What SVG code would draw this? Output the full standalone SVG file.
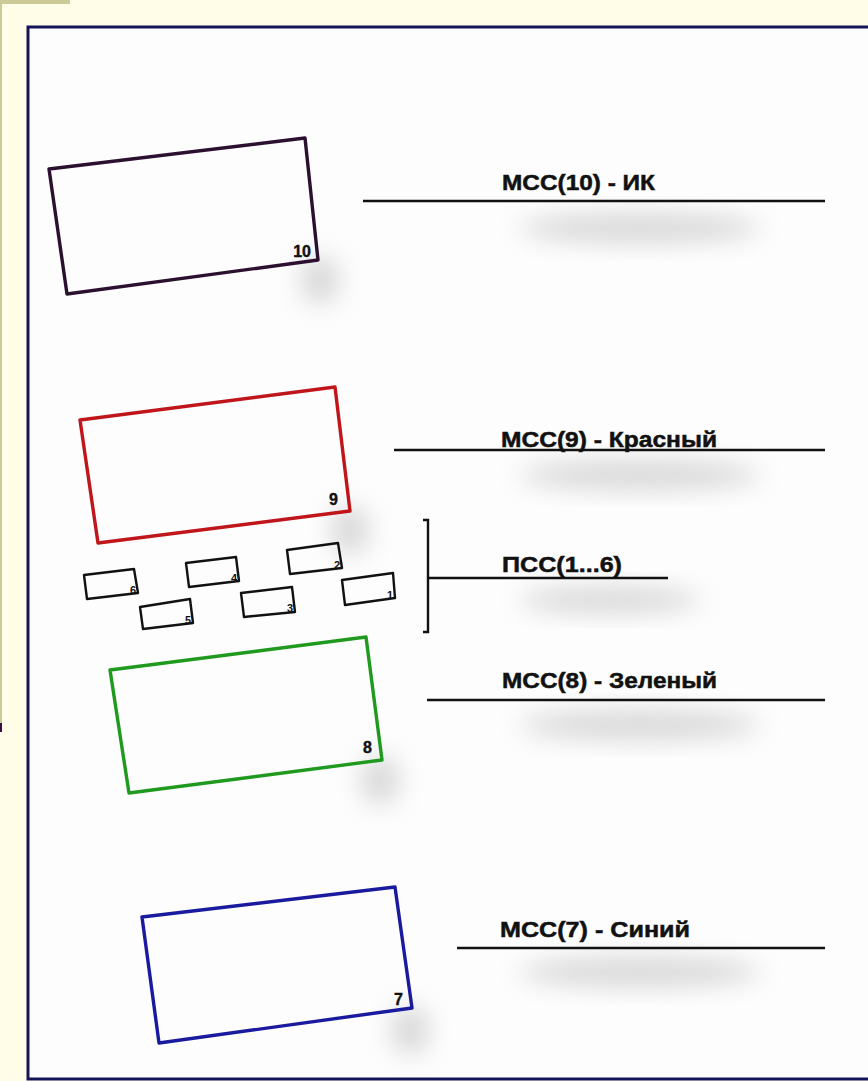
<svg xmlns="http://www.w3.org/2000/svg" width="868" height="1081" viewBox="0 0 868 1081">
<defs>
<filter id="blur" x="-50%" y="-50%" width="200%" height="200%"><feGaussianBlur stdDeviation="12"/></filter>
<style>
.lbl{font-family:"Liberation Sans",Arial,sans-serif;font-weight:bold;font-size:22px;fill:#111;stroke:#111;stroke-width:0.5}
.num{font-family:"Liberation Sans",Arial,sans-serif;font-weight:bold;font-size:16px;fill:#111;stroke:#111;stroke-width:0.4}
.snum{font-family:"Liberation Sans",Arial,sans-serif;font-weight:bold;font-size:11px;fill:#111}
.box{fill:none;stroke-width:3.4;stroke-linejoin:round}
.sbox{fill:none;stroke:#111;stroke-width:2.4;stroke-linejoin:round}
.ln{stroke:#111;stroke-width:2.4;fill:none}
.sh{fill:#9a9a9a;opacity:0.35;filter:url(#blur)}
</style>
</defs>
<rect x="0" y="0" width="868" height="1081" fill="#fffde8"/>
<rect x="0" y="0" width="70" height="4" fill="#cbca98"/>
<rect x="0" y="4" width="2" height="719" fill="#cbca98"/>
<rect x="0" y="723" width="2" height="9" fill="#3a1040"/>
<rect x="28" y="27" width="842" height="1052" fill="#fdfdfd" stroke="#14145a" stroke-width="3"/>
<g id="shadows">
<ellipse class="sh" cx="640" cy="228" rx="120" ry="16"/>
<ellipse class="sh" cx="640" cy="475" rx="120" ry="16"/>
<ellipse class="sh" cx="610" cy="600" rx="90" ry="14"/>
<ellipse class="sh" cx="640" cy="725" rx="120" ry="16"/>
<ellipse class="sh" cx="640" cy="972" rx="120" ry="16"/>
<ellipse class="sh" cx="320" cy="280" rx="20" ry="25"/>
<ellipse class="sh" cx="350" cy="530" rx="20" ry="25"/>
<ellipse class="sh" cx="380" cy="780" rx="20" ry="25"/>
<ellipse class="sh" cx="410" cy="1030" rx="20" ry="25"/>
</g>
<g id="node-10">
<polygon class="box" stroke="#2c1030" points="49,169 305,138 318,260 67,294"/>
<text class="num" x="311" y="257" text-anchor="end">10</text>
</g>
<g id="node-9">
<polygon class="box" stroke="#c0161b" points="80,420 335,387 350,511 98,543"/>
<text class="num" x="338" y="505" text-anchor="end">9</text>
</g>
<g id="node-8">
<polygon class="box" stroke="#1f9a1f" points="110,670 366,637 382,760 129,793"/>
<text class="num" x="372" y="753" text-anchor="end">8</text>
</g>
<g id="node-7">
<polygon class="box" stroke="#1a1a9e" points="142,917 395,887 412,1008 159,1043"/>
<text class="num" x="403" y="1005" text-anchor="end">7</text>
</g>
<g id="node-6"><polygon class="sbox" points="84,575 134,569 138,593 87,599"/><text class="snum" x="136" y="594" text-anchor="end">6</text></g>
<g id="node-4"><polygon class="sbox" points="186,563 236,557 239,581 189,587"/><text class="snum" x="237" y="582" text-anchor="end">4</text></g>
<g id="node-2"><polygon class="sbox" points="287,550 338,543 342,568 290,574"/><text class="snum" x="340" y="569" text-anchor="end">2</text></g>
<g id="node-1"><polygon class="sbox" points="342,580 393,573 395,598 345,605"/><text class="snum" x="393" y="599" text-anchor="end">1</text></g>
<g id="node-5"><polygon class="sbox" points="140,607 190,599 193,623 143,629"/><text class="snum" x="191" y="624" text-anchor="end">5</text></g>
<g id="node-3"><polygon class="sbox" points="241,593 292,587 295,612 244,617"/><text class="snum" x="293" y="612" text-anchor="end">3</text></g>
<g id="connectors">
<line class="ln" x1="363" y1="201" x2="825" y2="201"/>
<line class="ln" x1="394" y1="450" x2="825" y2="450"/>
<polyline class="ln" points="423,520 428,520 428,632 423,632"/>
<line class="ln" x1="428" y1="578" x2="668" y2="578"/>
<line class="ln" x1="427" y1="700" x2="825" y2="700"/>
<line class="ln" x1="457" y1="948" x2="825" y2="948"/>
</g>
<g id="labels">
<text class="lbl" x="502" y="190" textLength="153" lengthAdjust="spacingAndGlyphs">МСС(10) - ИК</text>
<text class="lbl" x="501" y="447" textLength="216" lengthAdjust="spacingAndGlyphs">МСС(9) - Красный</text>
<text class="lbl" x="502" y="572" textLength="120" lengthAdjust="spacingAndGlyphs">ПСС(1...6)</text>
<text class="lbl" x="502" y="688" textLength="215" lengthAdjust="spacingAndGlyphs">МСС(8) - Зеленый</text>
<text class="lbl" x="500" y="937" textLength="190" lengthAdjust="spacingAndGlyphs">МСС(7) - Синий</text>
</g>
</svg>
